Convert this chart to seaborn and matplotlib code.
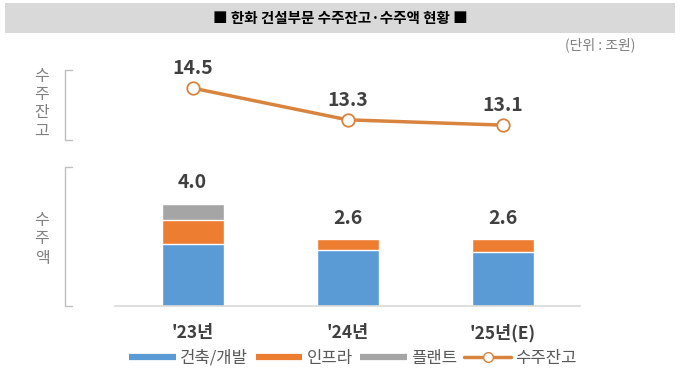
import matplotlib
matplotlib.use("Agg")
import numpy as np
import pandas as pd
import matplotlib.pyplot as plt
import seaborn as sns
from matplotlib.lines import Line2D
from matplotlib.patches import Rectangle

# data
years = ["'23년", "'24년", "'25년(E)"]
building = [2.4, 2.2, 2.1]      # 건축/개발
infra = [0.95, 0.4, 0.5]        # 인프라
plant = [0.65, 0.0, 0.0]        # 플랜트
totals = [4.0, 2.6, 2.6]
backlog = [14.5, 13.3, 13.1]    # 수주잔고

c_blue = "#5B9BD5"
c_orange = "#ED7D31"
c_gray = "#A5A5A5"
c_line = "#D8843F"
c_text = "#404040"

sns.set_style("white")
plt.rcParams['font.family'] = ['Noto Sans CJK KR', 'DejaVu Sans']

df = pd.DataFrame({"year": years, "building": building,
                   "infra": infra, "plant": plant, "backlog": backlog})
df["lvl2"] = df["building"] + df["infra"]
df["lvl3"] = df["lvl2"] + df["plant"]

fig = plt.figure(figsize=(6.8, 3.76), dpi=100)
fig.patch.set_facecolor("white")

# title banner
fig.patches.append(Rectangle((5/680, 1-33/376), 670/680, 30/376, transform=fig.transFigure,
                             facecolor="#D9D9D9", edgecolor="none", zorder=0))
fig.text(0.5, 1-18/376, "■ 한화 건설부문 수주잔고·수주액 현황 ■", ha="center", va="center",
         fontsize=10.5, fontweight="bold", color="black")
fig.text(635/680, 1-45/376, "(단위 : 조원)", ha="right", va="center", fontsize=10, color="#7F7F7F")

# bottom: stacked bars
ax = fig.add_axes([115/680, 70.5/376, 465/680, 135.5/376])
sns.barplot(data=df, x="year", y="lvl3", color=c_gray, width=0.4, saturation=1, ax=ax)
sns.barplot(data=df, x="year", y="lvl2", color=c_orange, width=0.4, saturation=1, ax=ax)
sns.barplot(data=df, x="year", y="building", color=c_blue, width=0.4, saturation=1, ax=ax)
ax.set_xlim(-0.5, 2.5)
ax.set_ylim(0, 5.33)
ax.set_xlabel("")
ax.set_ylabel("")
ax.set_yticks([])
for s in ["top", "left", "right"]:
    ax.spines[s].set_visible(False)
ax.spines["bottom"].set_color("#D9D9D9")
ax.spines["bottom"].set_linewidth(1.2)
ax.tick_params(axis="x", length=0, pad=13, labelsize=12.5, labelcolor=c_text)
for lab in ax.get_xticklabels():
    lab.set_fontweight("bold")
for i, t in enumerate(totals):
    ax.annotate(f"{t:.1f}", (i, t), xytext=(0, 15), textcoords="offset points",
                ha="center", va="center", fontsize=14, fontweight="bold", color=c_text)
ax.patch.set_alpha(0)

# top: backlog line
ax2 = fig.add_axes([115/680, 1-150/376, 465/680, 90/376])
sns.lineplot(x=[0, 1, 2], y=backlog, color=c_line, linewidth=2.5, marker="o",
             markersize=9, markerfacecolor="white", markeredgecolor=c_line,
             markeredgewidth=1.3, ax=ax2)
ax2.set_xlim(-0.5, 2.5)
ax2.set_ylim(12.16, 15.56)
ax2.axis("off")
for i, v in enumerate(backlog):
    ax2.annotate(f"{v:.1f}", (i, v), xytext=(0, 14), textcoords="offset points",
                 ha="center", va="center", fontsize=14, fontweight="bold", color=c_text)

# side labels and brackets
for ch, y in zip("수주잔고", [77, 95, 113, 131]):
    fig.text(42/680, 1-y/376, ch, ha="center", va="center", fontsize=11.5, color="#808080")
for ch, y in zip("수주액", [220, 239, 258]):
    fig.text(42/680, 1-y/376, ch, ha="center", va="center", fontsize=11.5, color="#808080")

def bracket(y0, y1):
    xs = [72/680, 65/680, 65/680, 72/680]
    ys = [1-y0/376, 1-y0/376, 1-y1/376, 1-y1/376]
    fig.add_artist(Line2D(xs, ys, transform=fig.transFigure, color="#BFBFBF", linewidth=1))

bracket(70, 140)
bracket(167, 306)

# legend
handles = [Line2D([], [], color=c_blue, linewidth=4.5, solid_capstyle="butt"),
           Line2D([], [], color=c_orange, linewidth=4.5, solid_capstyle="butt"),
           Line2D([], [], color=c_gray, linewidth=4.5, solid_capstyle="butt"),
           Line2D([], [], color=c_line, linewidth=2.5, marker="o", markersize=7,
                  markerfacecolor="white", markeredgecolor=c_line)]
labels = ["건축/개발", "인프라", "플랜트", "수주잔고"]
leg = fig.legend(handles, labels, loc="center", bbox_to_anchor=(353/680, 1-358/376),
                 ncol=4, frameon=False, fontsize=12, handlelength=2.8,
                 handletextpad=0.25, columnspacing=0.45)
for t in leg.get_texts():
    t.set_color("#595959")

fig.savefig("out.png", dpi=100)
